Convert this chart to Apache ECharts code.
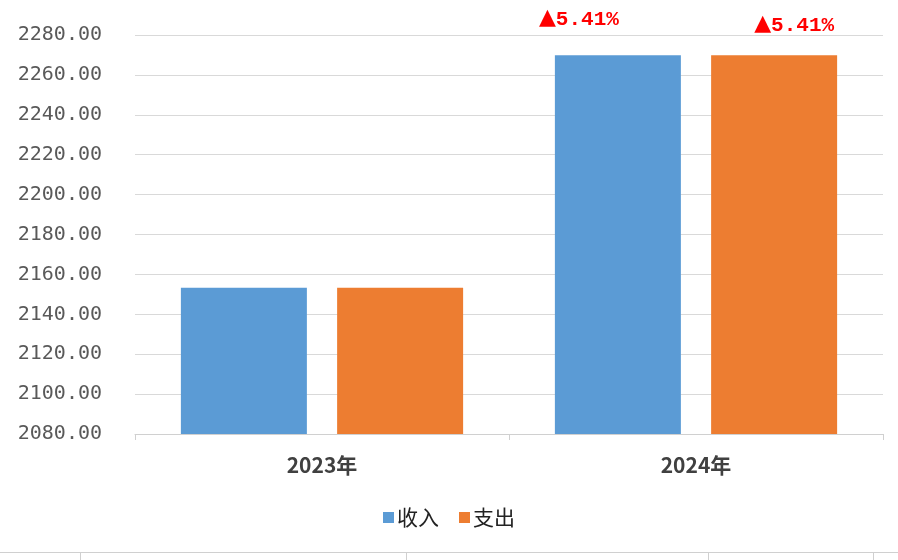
<!DOCTYPE html>
<html>
<head>
<meta charset="utf-8">
<script src="https://cdn.jsdelivr.net/npm/echarts@6/dist/echarts.min.js"></script>
<style>html,body{margin:0;padding:0;background:#fff}#c{width:898px;height:560px}</style>
</head>
<body>
<div id="c"></div>
<script>
var categories = ['2023年', '2024年'];
var seriesNames = ['收入', '支出'];
var income = [2153.3, 2269.8];
var expense = [2153.3, 2269.8];
var growthIncome = ['', '5.41%'];
var growthExpense = ['', '5.41%'];
var yMin = 2080, yMax = 2280, yStep = 20;

function buildData(values, labels, offset) {
  return values.map(function (v, i) {
    var item = { value: v };
    if (labels[i]) {
      item.label = {
        show: true, position: 'top', offset: offset,
        formatter: '{t|▲}{v|' + labels[i] + '}',
        rich: {
          t: { color: '#ff0000', fontSize: 22, fontFamily: 'DejaVu Sans', padding: [0, 0, 2, 0] },
          v: { color: '#ff0000', fontFamily: 'Liberation Mono', fontWeight: 'bold', fontSize: 21 }
        }
      };
    }
    return item;
  });
}

var chart = echarts.init(document.getElementById('c'));
chart.setOption({
  animation: false,
  backgroundColor: '#fff',
  grid: { left: 135, right: 15, top: 35, bottom: 126 },
  legend: {
    data: seriesNames, bottom: 27, left: 'center',
    itemWidth: 11, itemHeight: 11, itemGap: 20, icon: 'rect',
    textStyle: { fontSize: 21, color: '#222', fontFamily: 'Noto Sans CJK SC', padding: [0, 0, 0, -2] }
  },
  xAxis: {
    type: 'category', data: categories,
    axisLine: { lineStyle: { color: '#d0d0d0', width: 1 } },
    axisTick: { show: true, length: 6, lineStyle: { color: '#d0d0d0' } },
    axisLabel: { margin: 21, fontSize: 21, fontWeight: 'bold', color: '#404040', fontFamily: 'Noto Sans CJK SC' }
  },
  yAxis: {
    type: 'value', min: yMin, max: yMax, interval: yStep,
    axisLine: { show: false }, axisTick: { show: false },
    splitLine: { lineStyle: { color: '#d9d9d9', width: 1 } },
    axisLabel: {
      margin: 33, fontSize: 20, color: '#595959', fontFamily: 'DejaVu Sans Mono',
      formatter: function (v) { return v.toFixed(2); }
    }
  },
  series: [
    { name: seriesNames[0], type: 'bar', barWidth: 126, barGap: '24%',
      itemStyle: { color: '#5b9bd5' },
      data: buildData(income, growthIncome, [-39, -19]) },
    { name: seriesNames[1], type: 'bar', barWidth: 126,
      itemStyle: { color: '#ed7d31' },
      data: buildData(expense, growthExpense, [20, -13]) }
  ],
  graphic: [
    { type: 'line', shape: { x1: 0, y1: 552.5, x2: 898, y2: 552.5 }, style: { stroke: '#d0d0d0', lineWidth: 1 } },
    { type: 'line', shape: { x1: 80.5, y1: 552, x2: 80.5, y2: 560 }, style: { stroke: '#d0d0d0', lineWidth: 1 } },
    { type: 'line', shape: { x1: 406.5, y1: 552, x2: 406.5, y2: 560 }, style: { stroke: '#d0d0d0', lineWidth: 1 } },
    { type: 'line', shape: { x1: 708.5, y1: 552, x2: 708.5, y2: 560 }, style: { stroke: '#d0d0d0', lineWidth: 1 } },
    { type: 'line', shape: { x1: 873.5, y1: 552, x2: 873.5, y2: 560 }, style: { stroke: '#d0d0d0', lineWidth: 1 } }
  ]
});
</script>
</body>
</html>
